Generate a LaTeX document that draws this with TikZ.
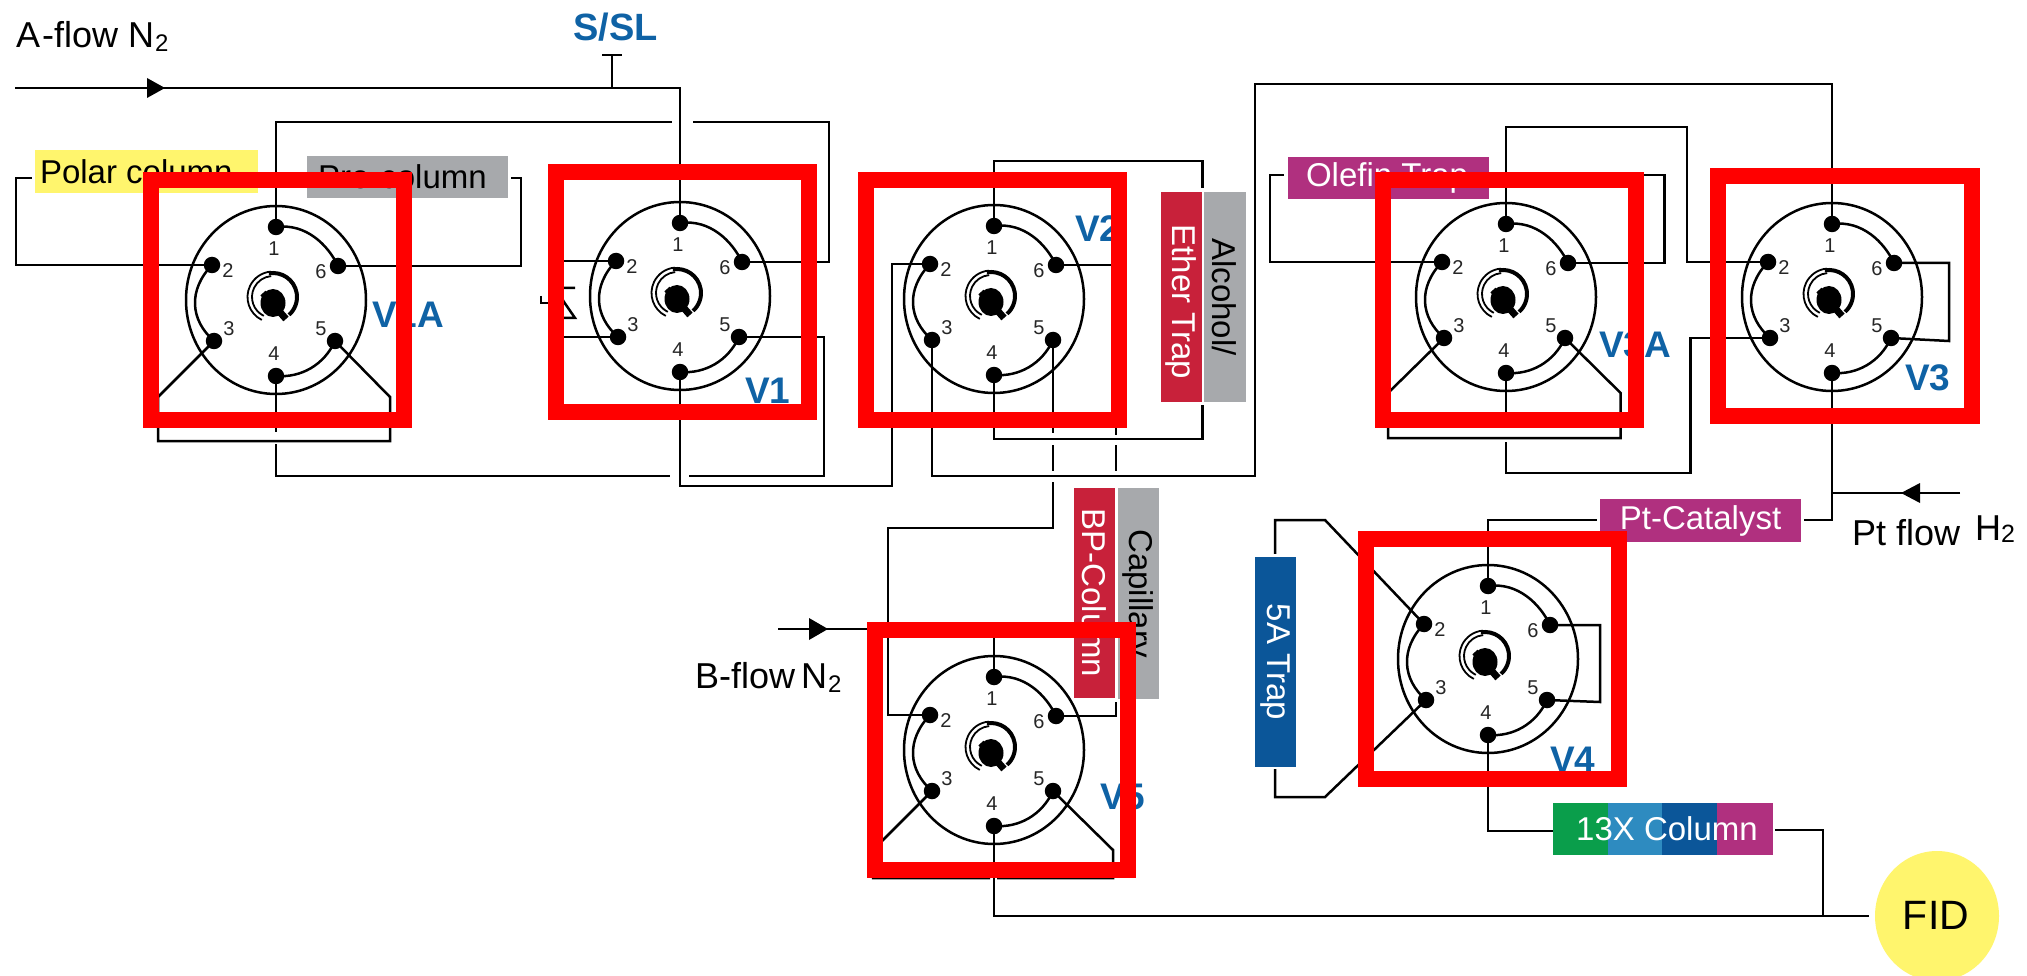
\documentclass[tikz,border=0pt]{standalone}
\usepackage{fontspec}
\setmainfont{Liberation Sans}
\usetikzlibrary{shapes.geometric}
\definecolor{crimson}{HTML}{C8213A}
\definecolor{graybox}{HTML}{A7A9AC}
\definecolor{polaryellow}{HTML}{FFF56D}
\definecolor{magentabox}{HTML}{B0307F}
\definecolor{darkblue}{HTML}{0B5699}
\definecolor{lightblue}{HTML}{2E8BC0}
\definecolor{greenbox}{HTML}{0A9E4B}
\definecolor{labelblue}{HTML}{0F62A5}
\newcommand{\fsz}[1]{\fontsize{#1}{#1}\selectfont}
\tikzset{
  x=1pt,y=-1pt,
  wire/.style={line width=2.5pt,draw=black,miter limit=10},
  body/.style={ellipse,draw=black,line width=2.5pt,minimum width=180pt,minimum height=188pt,inner sep=0pt},
  pinhole/.style={circle,fill=black,minimum size=16.5pt,inner sep=0pt},
  pinlabel/.style={inner sep=0pt,text=black!85,font=\fsz{20}},
  colbox/.style={inner sep=0pt,font=\fsz{33},minimum height=42pt},
  vbox/.style={inner sep=0pt,font=\fsz{33},rotate=-90,minimum height=41pt},
  valvename/.style={inner sep=0pt,text=labelblue,font=\fsz{37}\bfseries,anchor=base west},
  flowtext/.style={inner sep=0pt,font=\fsz{36},anchor=base west},
  redframe/.style={draw=red,line width=16pt,minimum width=253.5pt,minimum height=240pt,inner sep=0pt,fill=none},
}
\newcommand{\valve}[3]{%
\begin{scope}[shift={(#2,#3)}]
\node[body] (#1) at (0,0) {};
\node[pinhole] (#1-1) at (0,-73) {};
\node[pinhole] (#1-2) at (-64,-35) {};
\node[pinhole] (#1-3) at (-62,41) {};
\node[pinhole] (#1-4) at (0,76) {};
\node[pinhole] (#1-5) at (59,41) {};
\node[pinhole] (#1-6) at (62,-34) {};
\node[pinlabel] (#1-n1) at (-2,-51) {1};
\node[pinlabel] (#1-n2) at (-48,-29) {2};
\node[pinlabel] (#1-n3) at (-47,29) {3};
\node[pinlabel] (#1-n4) at (-2,54) {4};
\node[pinlabel] (#1-n5) at (45,29) {5};
\node[pinlabel] (#1-n6) at (45,-28) {6};
\draw[wire] (#1-1.center) .. controls +(30,-4) and +(-10,-21) .. (#1-6.center);
\draw[wire] (#1-2.center) .. controls +(-24,25) and +(-24,-21) .. (#1-3.center);
\draw[wire] (#1-4.center) .. controls +(25,2) and +(-11,24) .. (#1-5.center);
\begin{scope}[shift={(-3,-3)}]
\draw[line width=1.8pt] (244:25.5pt) arc[start angle=244,end angle=95,radius=25.5pt];
\draw[line width=1.8pt] (244:21pt) arc[start angle=244,end angle=95,radius=21pt];
\draw[line width=4pt] (100:24pt) arc[start angle=100,end angle=-48,radius=24pt];
\end{scope}
\fill[black] (-3,3) circle[x radius=12.5pt,y radius=14pt];
\draw[line width=7pt] (-13,-7) -- (10,19);
\end{scope}}
\begin{document}
\begin{tikzpicture}
\useasboundingbox (0,0) rectangle (2027,976);
\fill[white] (0,0) rectangle (2027,976);
% column and trap boxes
\node[colbox,fill=polaryellow,minimum width=223pt,minimum height=43pt] (polar) at (146.5,171.5) {\makebox[223pt][l]{\hspace{5pt}Polar column}};
\node[colbox,fill=graybox,minimum width=201pt] (precol) at (407.5,177) {\makebox[201pt][l]{\hspace{11pt}Pre-column}};
\node[colbox,fill=magentabox,text=white,minimum width=201pt] (olefin) at (1388.5,178) {\makebox[201pt][l]{\hspace{18pt}Olefin Trap}};
\node[colbox,fill=magentabox,text=white,minimum width=201pt,minimum height=43pt] (ptcat) at (1700.5,520.5) {Pt-Catalyst};
\node[vbox,fill=crimson,text=white,minimum width=210pt] (ether) at (1181,297) {\hspace{10pt}Ether Trap};
\node[vbox,fill=graybox,minimum width=210pt,minimum height=42pt] (alcohol) at (1224.5,297) {Alcohol/};
\node[vbox,fill=crimson,text=white,minimum width=210pt] (bpcol) at (1094.5,593) {BP-Column};
\node[vbox,fill=graybox,minimum width=211pt] (capillary) at (1138.5,593.5) {Capillary};
\node[vbox,fill=darkblue,text=white,minimum width=210pt] (fivea) at (1275,662) {5A Trap\hspace{14pt}};
\node[fill=greenbox,inner sep=0pt,minimum width=55.5pt,minimum height=52pt] (xa) at (1580.7,829) {};
\node[fill=lightblue,inner sep=0pt,minimum width=54pt,minimum height=52pt] (xb) at (1635,829) {};
\node[fill=darkblue,inner sep=0pt,minimum width=55.5pt,minimum height=52pt] (xc) at (1689.7,829) {};
\node[fill=magentabox,inner sep=0pt,minimum width=55.5pt,minimum height=52pt] (xd) at (1745.2,829) {};
\node[inner sep=0pt,font=\fsz{33},text=white] (xtext) at (1667,829) {13X Column};
\node[ellipse,fill=polaryellow,inner sep=0pt,minimum width=124pt,minimum height=130pt] (fid) at (1937,916) {};
\node[inner sep=0pt,font=\fsz{41}] (fidtext) at (1936,915) {FID};
% valves
\valve{V1A}{276}{300}
\valve{V1}{680}{296}
\valve{V2}{994}{299}
\valve{V3A}{1506}{297}
\valve{V3}{1832}{297}
\valve{V5}{994}{750}
\valve{V4}{1488}{659}
% free ends
\coordinate (aflowin) at (15,88);
\coordinate (bflowin) at (778,629);
\coordinate (ptflowin) at (1960,493);
\coordinate (ssl) at (612,55);
% A flow, S/SL
\draw[wire] (aflowin) -- (680,88) -- (V1-1.center);
\fill (147,78) -- (165,88) -- (147,98) -- cycle;
\draw[wire] (ssl) -- (612,88);
\draw[wire] (602,55) -- (622,55);
% V1A connections
\draw[wire] (V1A-1.center) |- (672,122);
\draw[wire] (V1-6.center) -| (829,122) -- (693,122);
\draw[wire] (V1A-2.center) -| (16,178) -- ([shift={(-3,6.5)}]polar.west);
\draw[wire] (V1A-6.center) -| (521,178) -- ([shift={(3,1)}]precol.east);
\draw[wire] (V1A-3.center) -- (158,397) -- (158,441) -- (390,441) -- (390,397) -- (V1A-5.center);
\draw[wire] (V1A-4.center) -- ++(0,56);
\draw[wire] (276,444) -- (276,476) -- (670,476);
\draw[wire] (V1-5.center) -| (824,476) -- (689,476);
% V1 connections
\draw[wire] (V1-2.center) -- ++(-60,0);
\draw[wire] (V1-3.center) -- ++(-60,0);
\draw[wire] (575,288) -- (556,288) -- (564,302) -- (575,318) -- (556,318);
\draw[wire] (541,296) -- (541,303) -- (556,303);
\draw[wire] (V1-4.center) |- (892,486) |- (V2-2.center);
% V2 connections
\draw[wire] (V2-1.center) |- (1202.5,161) -- (1202.5,188);
\draw[wire] (V2-6.center) -- ++(60,0);
\draw[wire] (V2-4.center) |- (1202.5,439) -- (1202.5,405);
\draw[wire] (V2-3.center) |- (1255,476) -- (1255,84) -| (V3-1.center);
\draw[wire] (V2-5.center) -- ++(0,93);
\draw[wire] (1053,445) -- (1053,471);
\draw[wire] (1053,482) -- (1053,528) -| (888,600) |- (V5-2.center);
\draw[wire] (1116,425) -- (1116,435);
\draw[wire] (1116,445) -- (1116,471);
% V3A connections
\draw[wire] (V3A-1.center) |- (1687,127) |- (V3-2.center);
\draw[wire] (V3A-2.center) -| (1270,175) -- ([shift={(-4,-3)}]olefin.west);
\draw[wire] (V3A-6.center) -| (1664.6,175) -- (1495,175);
\draw[wire] (V3A-3.center) -- (1388,393) -- (1388,438) -- (1620.6,438) -- (1620.6,393) -- (V3A-5.center);
\draw[wire] (V3A-4.center) -- ++(0,55);
\draw[wire] (V3-3.center) -| (1690.5,473) -- (1506,473) -- (1506,441.6);
% V3 connections
\draw[wire] (V3-6.center) -| (1949,341) -- (V3-5.center);
\draw[wire] (V3-4.center) |- (1804,520);
\draw[wire] (ptflowin) -- (1832,493);
\fill (1901,493) -- (1920,483) -- (1920,503) -- cycle;
% V4 connections
\draw[wire] (V4-1.center) |- (1597,520);
\draw[wire] (V4-2.center) -- (1325,520) -- (1275,520) -- ([shift={(0,-3)}]fivea.west);
\draw[wire] (V4-3.center) -- (1325,797) -- (1275,797) -- ([shift={(0,2)}]fivea.east);
\draw[wire] (V4-6.center) -| (1600,702) -- (V4-5.center);
\draw[wire] (V4-4.center) |- ([shift={(0,2)}]xa.west);
\draw[wire] ([shift={(2,1)}]xd.east) -| (1823,916);
% V5 connections
\draw[wire] (bflowin) -- (994,629) -- (V5-1.center);
\fill (809,618) -- (828,629) -- (809,640) -- cycle;
\draw[wire] (V5-6.center) -| (1116,702);
\draw[wire] (V5-3.center) -- (873,850) -- (873,878) -- (990,878);
\draw[wire] (V5-5.center) -- (1113,850) -- (1113,878) -- (997,878);
\draw[wire] (V5-4.center) |- ([shift={(-6,0)}]fid.west);
% labels
\node[flowtext] (aflow) at (16,48) {A\hspace{2pt}-flow\hspace{10pt}N\hspace{1pt}\raisebox{-4pt}{\fsz{24}2}};
\node[flowtext] (bflow) at (695,688) {B-flow\hspace{6pt}N\hspace{1pt}\raisebox{-4pt}{\fsz{24}2}};
\node[flowtext] (ptflow) at (1852,545) {Pt flow};
\node[inner sep=0pt,font=\fsz{36},anchor=base west] (hflow) at (1975,540) {H\raisebox{-2pt}{\fsz{25}2}};
\node[inner sep=0pt,text=labelblue,font=\fsz{38}\bfseries,anchor=base west] (ssltext) at (573,41) {S/SL};
\node[valvename] (nV1A) at (372,328) {V1A};
\node[valvename] (nV1) at (745,403) {V1};
\node[valvename] (nV2) at (1075,242) {V2};
\node[valvename] (nV3A) at (1599,357) {V3A};
\node[valvename] (nV3) at (1905,390) {V3};
\node[valvename] (nV5) at (1100,809) {V5};
\node[valvename] (nV4) at (1550,772) {V4};
% red frames
\node[redframe] (r1) at (277.5,300) {};
\node[redframe] (r2) at (682.5,292) {};
\node[redframe] (r3) at (992.5,300) {};
\node[redframe] (r4) at (1509.5,300) {};
\node[redframe] (r5) at (1845,296) {};
\node[redframe] (r6) at (1001.5,750) {};
\node[redframe] (r7) at (1492.5,659) {};
\end{tikzpicture}
\end{document}
